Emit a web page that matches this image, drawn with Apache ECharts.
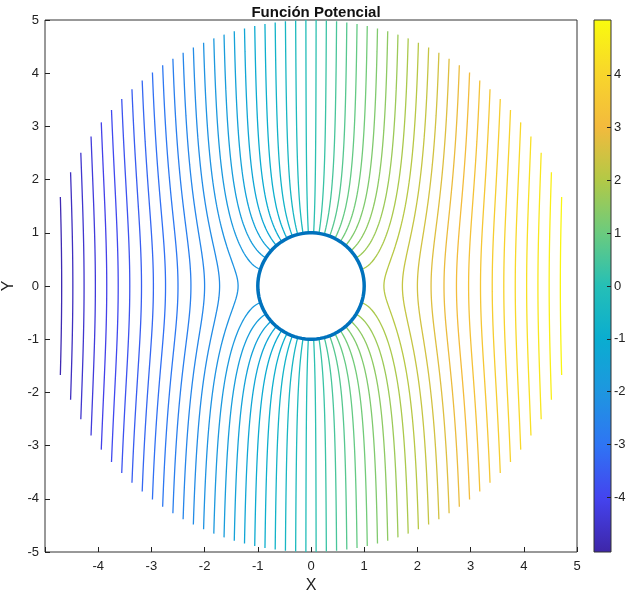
<!DOCTYPE html><html><head><meta charset="utf-8">
<script src="https://cdn.jsdelivr.net/npm/echarts@6/dist/echarts.min.js"></script>
<style>html,body{margin:0;padding:0;background:#fff}#c{width:641px;height:599px}</style></head><body><div id="c"></div>
<script>
// Contour levels of the potential, and colour range
const levels = [];
for (let i = 0; i < 50; i++) levels.push(-4.9 + 0.2 * i);
const cMin = -5.04, cMax = 5.04;
const outerR = 5, cylR = 1;
const cbTicks = [-4,-3,-2,-1,0,1,2,3,4];
const parula = [[0,'#3E26A8'],[0.1,'#4443EE'],[0.2,'#2F74F4'],[0.3,'#1E96E0'],[0.4,'#0AADD0'],[0.5,'#25BFB6'],[0.6,'#6BCB7E'],[0.7,'#B3C946'],[0.8,'#F3BA3D'],[0.9,'#F8D62B'],[1,'#F9FB0E']];

function hex(h){return [1,3,5].map(i=>parseInt(h.substr(i,2),16));}
function colorAt(v){
  let t=(v-cMin)/(cMax-cMin); t=Math.max(0,Math.min(1,t));
  for(let i=1;i<parula.length;i++){ if(t<=parula[i][0]){
    const a=parula[i-1],b=parula[i],f=(t-a[0])/(b[0]-a[0]);
    const ca=hex(a[1]),cb=hex(b[1]);
    return 'rgb('+ca.map((x,k)=>Math.round(x+(cb[k]-x)*f)).join(',')+')';}}
  return parula[parula.length-1][1];
}
// potential phi = (r+1/r) cos(theta); contour: cos(theta) = c/(r+1/r)
function branch(c, rmin, sign){
  const pts=[]; const N=200;
  for(let i=0;i<=N;i++){
    const t=i/N; const r=rmin+(outerR-rmin)*t*t;
    let cs=c/(r+1/r); cs=Math.max(-1,Math.min(1,cs));
    const th=Math.acos(cs); pts.push([r*Math.cos(th), sign*r*Math.sin(th)]);
  }
  return pts;
}
const series=[];
levels.forEach(c=>{
  const col=colorAt(c); const lines=[];
  const a=Math.abs(c);
  if(a>=2){ const rmin=(a+Math.sqrt(a*a-4))/2;
    lines.push(branch(c,rmin,1).reverse().concat(branch(c,rmin,-1)));
  } else { lines.push(branch(c,1,1)); lines.push(branch(c,1,-1)); }
  lines.forEach(d=>series.push({type:'line',data:d,showSymbol:false,silent:true,lineStyle:{color:col,width:1.3},animation:false}));
});
const circ=[]; for(let i=0;i<=180;i++){const t=i/180*2*Math.PI; circ.push([cylR*Math.cos(t),cylR*Math.sin(t)]);}
series.push({type:'line',data:circ,showSymbol:false,lineStyle:{color:'#0072BD',width:3.5},animation:false,z:5});

const ax={color:'#222'};
const chart=echarts.init(document.getElementById('c'));
chart.setOption({
  animation:false,
  title:{text:'Función Potencial',left:311,textAlign:'center',top:0,textStyle:{fontFamily:'Helvetica, Arial, sans-serif',fontSize:15,fontWeight:'bold',color:'#111'}},
  grid:[{left:45,top:20,width:532,height:532,show:true,borderColor:'#333',borderWidth:1,outerBoundsMode:'none',containLabel:false},
        {left:594,top:20,width:17,height:532,show:true,borderColor:'#333',borderWidth:1,outerBoundsMode:'none',containLabel:false}],
  xAxis:[{type:'value',min:-5,max:5,interval:1,gridIndex:0,position:'bottom',name:'X',nameLocation:'middle',nameGap:26,nameTextStyle:{fontSize:16,color:'#222'},
    axisLine:{show:false,onZero:false},axisTick:{inside:true,length:5,lineStyle:ax},splitLine:{show:false},
    axisLabel:{color:'#222',fontSize:13,formatter:v=>v===-5?'':String(v)}},
    {type:'value',gridIndex:1,min:0,max:1,show:false}],
  yAxis:[{type:'value',min:-5,max:5,interval:1,gridIndex:0,position:'left',name:'Y',nameLocation:'middle',nameGap:27,nameRotate:90,nameTextStyle:{fontSize:16,color:'#222'},
    axisLine:{show:false,onZero:false},axisTick:{inside:true,length:5,lineStyle:ax},splitLine:{show:false},axisLabel:{color:'#222',fontSize:13,margin:6}},
    {type:'value',gridIndex:1,min:cMin,max:cMax,position:'right',
     axisLine:{show:false,onZero:false},axisTick:{inside:true,length:4,lineStyle:ax,customValues:cbTicks},splitLine:{show:false},
     axisLabel:{color:'#222',fontSize:13,margin:3,customValues:cbTicks}}],
  graphic:[{type:'rect',shape:{x:594,y:20,width:17,height:532},z:-1,
    style:{fill:new echarts.graphic.LinearGradient(0,1,0,0,parula.map(p=>({offset:p[0],color:p[1]})))}}],
  series:series
});
</script></body></html>
